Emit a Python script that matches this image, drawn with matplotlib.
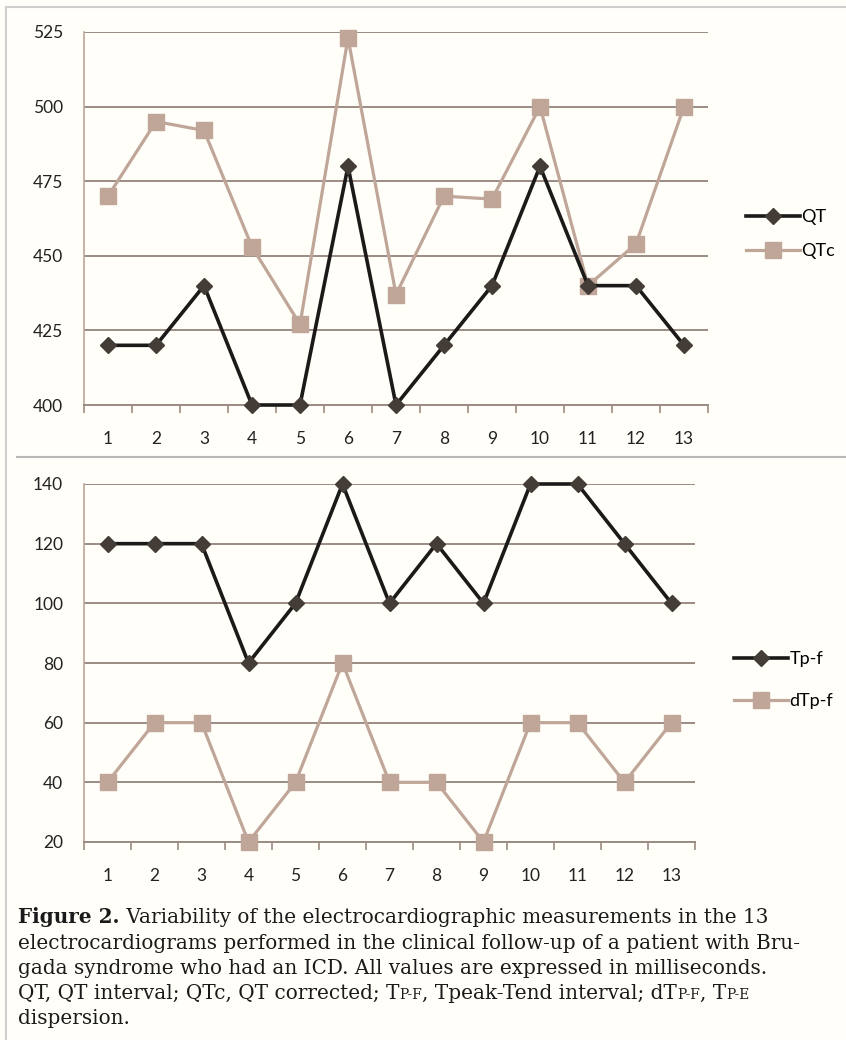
import numpy as np
import matplotlib
matplotlib.use('Agg')
import matplotlib.pyplot as plt
from matplotlib.lines import Line2D

plt.rcParams['font.family'] = ['Lato', 'DejaVu Sans']

ecg = list(range(1, 14))
qt = [420, 420, 440, 400, 400, 480, 400, 420, 440, 480, 440, 440, 420]
qtc = [470, 495, 492, 453, 427, 523, 437, 470, 469, 500, 440, 454, 500]
tpf = [120, 120, 120, 80, 100, 140, 100, 120, 100, 140, 140, 120, 100]
dtpf = [40, 60, 60, 20, 40, 80, 40, 40, 20, 60, 60, 40, 60]

bg = '#fffef8'
dark = '#1c1a19'
dark_mk = '#433c37'
tan = '#bfa699'
grid_c = '#9b8c83'

fig = plt.figure(figsize=(8.46, 10.4), dpi=100, facecolor=bg)
W, H = 846, 1040


def fx(px):
    return px / W


def fy(py):
    return 1 - py / H


def style_axis(ax, ylim, yticks):
    ax.set_facecolor(bg)
    ax.set_xlim(0.5, 13.5)
    ax.set_ylim(*ylim)
    ax.set_yticks(yticks)
    ax.set_xticks(ecg)
    ax.set_xticks(np.arange(0.5, 14, 1), minor=True)
    ax.tick_params(axis='x', which='major', length=0, pad=19, labelsize=12.5, labelcolor='#222222')
    ax.tick_params(axis='x', which='minor', length=6, width=1.2, color=grid_c, direction='out')
    ax.tick_params(axis='y', length=0, pad=15, labelsize=12.5, labelcolor='#222222')
    for t in yticks:
        ax.axhline(t, color=grid_c, lw=1.4, zorder=1)
    for s in ['top', 'right']:
        ax.spines[s].set_visible(False)
    ax.spines['left'].set_color(tan)
    ax.spines['left'].set_linewidth(1.2)
    ax.spines['bottom'].set_color(grid_c)
    ax.spines['bottom'].set_linewidth(1.4)


# top panel
ax1 = fig.add_axes([fx(84), fy(405), fx(708 - 84), (405 - 32) / H])
style_axis(ax1, (400, 525), [400, 425, 450, 475, 500, 525])
ax1.plot(ecg, qtc, color=tan, lw=2.3, marker='s', ms=11, mfc=tan, mec=tan,
         label='QTc', zorder=3, clip_on=False)
ax1.plot(ecg, qt, color=dark, lw=2.6, marker='D', ms=8, mfc=dark_mk, mec=dark_mk,
         label='QT', zorder=4, clip_on=False)
h, l = ax1.get_legend_handles_labels()
fig.legend(h[::-1], l[::-1], loc='center left', bbox_to_anchor=(fx(739), fy(234)),
           frameon=False, fontsize=13, handlelength=3.0, handletextpad=0.05,
           labelspacing=1.0, borderaxespad=0)

# bottom panel
ax2 = fig.add_axes([fx(84), fy(842), fx(695 - 84), (842 - 484) / H])
style_axis(ax2, (20, 140), [20, 40, 60, 80, 100, 120, 140])
ax2.plot(ecg, dtpf, color=tan, lw=2.3, marker='s', ms=11, mfc=tan, mec=tan,
         label='dTp-f', zorder=3, clip_on=False)
ax2.plot(ecg, tpf, color=dark, lw=2.6, marker='D', ms=8, mfc=dark_mk, mec=dark_mk,
         label='Tp-f', zorder=4, clip_on=False)
h, l = ax2.get_legend_handles_labels()
fig.legend(h[::-1], l[::-1], loc='center left', bbox_to_anchor=(fx(727), fy(680)),
           frameon=False, fontsize=13, handlelength=3.0, handletextpad=0.05,
           labelspacing=1.45, borderaxespad=0)

# frame lines
fig.add_artist(Line2D([fx(6), 1], [fy(7), fy(7)], color='#cfcfcf', lw=1.5))
fig.add_artist(Line2D([fx(6), fx(6)], [fy(7), 0], color='#cfcfcf', lw=1.5))
fig.add_artist(Line2D([fx(17), 1], [fy(457), fy(457)], color='#b8b8b8', lw=1.5))

# caption
serif = ['DejaVu Serif']
cap_size = 14.4
small = 9.9
renderer = fig.canvas.get_renderer()


def put_runs(x_px, y_px, runs):
    x = fx(x_px)
    for txt, size, weight in runs:
        t = fig.text(x, fy(y_px), txt, fontsize=size, fontweight=weight,
                     family=serif, color='#1a1a1a', va='baseline', ha='left')
        bb = t.get_window_extent(renderer)
        x = bb.x1 / W


put_runs(18, 923, [('Figure 2.', cap_size, 'bold'),
                   (' Variability of the electrocardiographic measurements in the 13', cap_size, 'normal')])
put_runs(18, 949, [('electrocardiograms performed in the clinical follow-up of a patient with Bru-', cap_size, 'normal')])
put_runs(18, 974, [('gada syndrome who had an ICD. All values are expressed in milliseconds.', cap_size, 'normal')])
put_runs(18, 999, [('QT, QT interval; QTc, QT corrected; T', cap_size, 'normal'),
                   ('P-F', small, 'normal'),
                   (', Tpeak-Tend interval; dT', cap_size, 'normal'),
                   ('P-F', small, 'normal'),
                   (', T', cap_size, 'normal'),
                   ('P-E', small, 'normal')])
put_runs(18, 1024, [('dispersion.', cap_size, 'normal')])

fig.savefig('out.png', dpi=100, facecolor=bg)
